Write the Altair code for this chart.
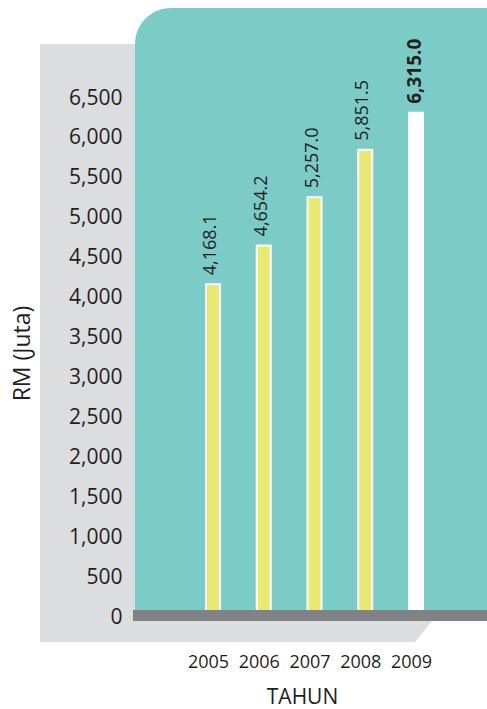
import altair as alt
import pandas as pd

# ---- data ----
years = [2005, 2006, 2007, 2008, 2009]
values = [4168.1, 4654.2, 5257.0, 5851.5, 6315.0]
value_labels = ["4,168.1", "4,654.2", "5,257.0", "5,851.5", "6,315.0"]
kinds = ["normal", "normal", "normal", "normal", "highlight"]
y_ticks = list(range(0, 6501, 500))

df = pd.DataFrame({"year": years, "value": values, "label": value_labels, "kind": kinds})
dummy = pd.DataFrame({"d": [0]})

LEFT = 127  # plot-area origin (x) in page pixels
TEXT = "#231f20"
FONT = "Open Sans"

xscale = alt.Scale(domain=[2005, 2009], range=[213 - LEFT, 416 - LEFT], nice=False, zero=False, padding=0)
yscale = alt.Scale(domain=[0, 6500], range=[617, 98], nice=False, padding=0)

xaxis = alt.Axis(
    values=years, format="d", title="TAHUN", domain=False, ticks=False, grid=False,
    labelFont=FONT, labelFontSize=18, labelColor=TEXT, labelPadding=22,
    labelBaseline="middle", labelOffset=-5, labelFlush=False, labelOverlap=False,
    titleFont=FONT, titleFontSize=21, titleFontWeight="normal", titleColor=TEXT,
    titleX=175, titleY=57, titleBaseline="middle", titleAlign="center", zindex=1)
yaxis = alt.Axis(
    values=y_ticks, format=",.0f", title="RM (Juta)", domain=False, ticks=False, grid=False,
    labelFont=FONT, labelFontSize=21, labelColor=TEXT, labelPadding=5,
    labelBaseline="middle", labelFlush=False, labelOverlap=False,
    titleFont=FONT, titleFontSize=23, titleFontWeight="normal", titleColor=TEXT,
    titleX=22 - LEFT, titleY=353, titleAngle=270, titleBaseline="middle",
    titleAlign="center", zindex=1)

X = alt.X("year:Q", scale=xscale, axis=xaxis)
Y = alt.Y("value:Q", scale=yscale, axis=yaxis)

# ---- decorative panels ----
grey = alt.Chart(dummy).mark_rect(color="#DCDDDE").encode(
    x=alt.value(40 - LEFT), x2=alt.value(415 - LEFT), y=alt.value(44), y2=alt.value(642)
)
grey_tri = alt.Chart(dummy).mark_point(
    shape="M -0.81 -1 L 0.81 -1 L -0.81 1 Z", filled=True, color="#DCDDDE",
    opacity=1, size=441, strokeWidth=0
).encode(x=alt.value(423.5 - LEFT), y=alt.value(631.5))
teal = alt.Chart(dummy).mark_rect(color="#7BCBC7", cornerRadiusTopLeft=36).encode(
    x=alt.value(135 - LEFT), x2=alt.value(520 - LEFT), y=alt.value(8), y2=alt.value(612)
)
base_bar = alt.Chart(dummy).mark_rect(color="#808285").encode(
    x=alt.value(133 - LEFT), x2=alt.value(520 - LEFT), y=alt.value(610), y2=alt.value(621)
)

# ---- bars ----
bars = alt.Chart(df).mark_bar(size=14, stroke="white", strokeWidth=2).encode(
    x=X, y=Y,
    color=alt.Color("kind:N", scale=alt.Scale(domain=["normal", "highlight"],
                                              range=["#E9E870", "#FFFFFF"]), legend=None),
)

labels_normal = alt.Chart(df).transform_filter(alt.datum.kind == "normal").mark_text(
    angle=270, align="left", baseline="middle", dx=9, dy=-2,
    font=FONT, fontSize=18, color=TEXT
).encode(x=X, y=Y, text="label:N")
labels_bold = alt.Chart(df).transform_filter(alt.datum.kind == "highlight").mark_text(
    angle=270, align="left", baseline="middle", dx=9, dy=-1,
    font=FONT, fontSize=19, fontWeight="bold", color=TEXT
).encode(x=X, y=Y, text="label:N")

chart = alt.layer(
    grey, grey_tri, teal, bars, base_bar, labels_normal, labels_bold
).properties(
    width=487 - LEFT, height=640,
    padding={"left": LEFT, "top": 0, "right": 0, "bottom": 69},
    autosize="none", background="white",
).configure_view(stroke=None)

chart.save("out.html", embed_options={"renderer": "svg", "actions": False})
